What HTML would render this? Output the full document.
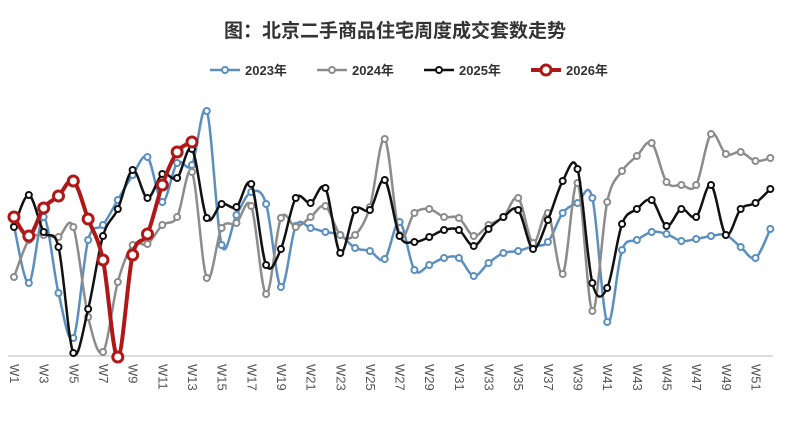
<!DOCTYPE html>
<html><head><meta charset="utf-8"><style>
html,body{margin:0;padding:0;background:#fff;width:791px;height:423px;overflow:hidden}
</style></head><body>
<svg id="chart" width="791" height="423" xmlns="http://www.w3.org/2000/svg" font-family="Liberation Sans, Noto Sans CJK SC, sans-serif">
<text x="395" y="37" text-anchor="middle" font-size="19" font-weight="bold" fill="#333">图：北京二手商品住宅周度成交套数走势</text>
<g id="legend"></g>
<line x1="8" y1="356" x2="773" y2="356" stroke="#d0d0d0" stroke-width="1.5"/>
<g id="xt"></g>
<g id="series"></g>
</svg>
<script>
const weeks = Array.from({length:52},(_,i)=>'W'+(i+1));
const s2023 = [130,73,139,63,18,116,131,156,181,199,154,193,191,245,111,141,164,152,69,130,128,124,121,108,105,97,134,86,91,98,98,80,93,103,105,110,114,143,153,158,34,106,116,124,122,115,117,120,121,109,98,127];
const s2024 = [79,116,121,119,129,39,4,74,111,112,131,139,184,78,128,133,150,62,138,129,139,150,121,121,149,217,121,143,147,139,138,120,131,139,158,113,143,82,173,45,154,185,200,213,174,171,171,222,202,204,195,198];
const s2025 = [129,161,124,109,3,47,120,147,186,158,182,178,207,138,152,149,172,91,107,158,153,168,103,146,146,176,120,114,119,126,126,110,127,139,146,107,136,175,187,73,68,132,147,156,130,147,139,171,121,147,153,167];
const s2026 = [139,120,148,160,175,137,96,-1,101,122,171,204,214];
const seriesList = [
 {name:'2023年', data:s2023, color:'#5b8fc0', w:2.5, r:3},
 {name:'2024年', data:s2024, color:'#8c8c8c', w:2.5, r:3},
 {name:'2025年', data:s2025, color:'#111', w:2.5, r:3},
 {name:'2026年', data:s2026, color:'#b01818', w:4, r:5}
];
const X0=14, STEP=14.83, BASE=356;
const xs = i => X0 + i*STEP;
const ys = v => BASE - v;
const NS='http://www.w3.org/2000/svg';
function mk(tag, attrs, parent){const e=document.createElementNS(NS,tag);for(const k in attrs)e.setAttribute(k,attrs[k]);parent.appendChild(e);return e;}
const xt=document.getElementById('xt');
weeks.forEach((w,i)=>{ if(i%2) return;
 const t=mk('text',{x:0,y:0,'font-size':'13',fill:'#555',transform:`translate(${xs(i)-4},${364}) rotate(90)`},xt);
 
 
 t.textContent=w;});
function smooth(pts){let d=`M${pts[0][0]},${pts[0][1]}`;
 for(let i=0;i<pts.length-1;i++){const p0=pts[i-1]||pts[i],p1=pts[i],p2=pts[i+1],p3=pts[i+2]||p2;
  const c1=[p1[0]+(p2[0]-p0[0])/6,p1[1]+(p2[1]-p0[1])/6],c2=[p2[0]-(p3[0]-p1[0])/6,p2[1]-(p3[1]-p1[1])/6];
  d+=` C${c1[0]},${c1[1]} ${c2[0]},${c2[1]} ${p2[0]},${p2[1]}`;}return d;}
const sg=document.getElementById('series');
seriesList.forEach(s=>{
 const g=mk('g',{},sg);
 
 
 const pts=s.data.map((v,i)=>[xs(i),ys(v)]);
 const p=mk('path',{d:smooth(pts),fill:'none',stroke:s.color,'stroke-width':s.w},g);
 
 
 pts.forEach(pt=>{const c=mk('circle',{cx:pt[0],cy:pt[1],r:s.r,fill:'#fff',stroke:s.color,'stroke-width':s.w>3?3:2},g);
  
  });
});
const lg=document.getElementById('legend');
const lx=[210,317,424,531];
seriesList.forEach((s,i)=>{
 const g=mk('g',{},lg);
 
 
 mk('line',{x1:lx[i],y1:70,x2:lx[i]+30,y2:70,stroke:s.color,'stroke-width':s.w},g);
 mk('circle',{cx:lx[i]+15,cy:70,r:s.r,fill:'#fff',stroke:s.color,'stroke-width':s.w>3?3:2},g);
 const t=mk('text',{x:lx[i]+35,y:75,'font-size':'13','font-weight':'bold',fill:'#333'},g);
 t.textContent=s.name;
});
</script>
</body></html>
